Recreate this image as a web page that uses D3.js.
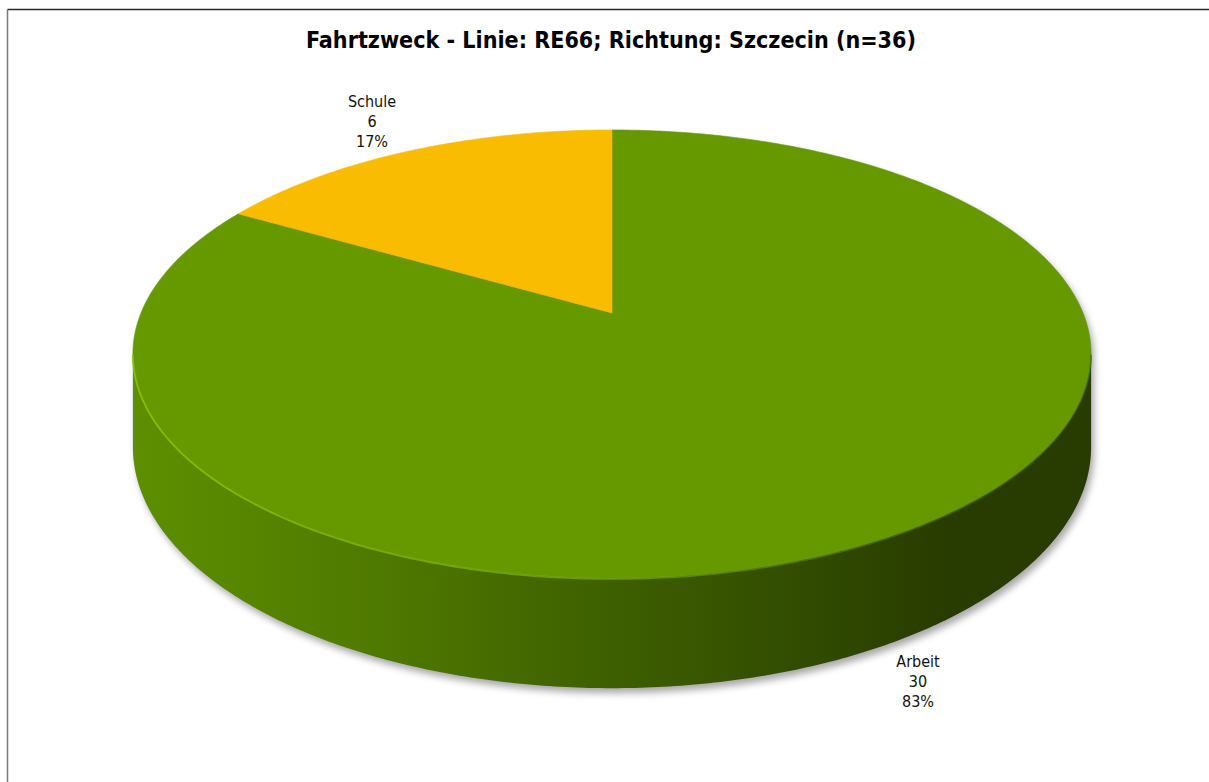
<!DOCTYPE html>
<html>
<head>
<meta charset="utf-8">
<script src="https://cdn.jsdelivr.net/npm/d3@7"></script>
<style>
html, body { margin: 0; padding: 0; background: #fff; }
svg { display: block; }
</style>
</head>
<body>
<div id="chart"></div>
<script>
// ---- data ----
const title = "Fahrtzweck - Linie: RE66; Richtung: Szczecin (n=36)";
const categories = ["Arbeit", "Schule"];
const values = [30, 6];
const percentLabels = ["83%", "17%"];
const sliceColors = ["#669900", "#F9BC00"];

// ---- layout ----
const W = 1209, H = 782;
const svg = d3.select("#chart").append("svg").attr("width", W).attr("height", H);
const defs = svg.append("defs");

// perspective projection of a unit disc (theta clockwise from 12 o'clock)
const cx = 612, Y0 = 313, A = 471, B = 216.5, k = -0.183, depth = 90;
function proj(theta, r, h) {
  const u = r * Math.sin(theta), v = -r * Math.cos(theta);
  const w = 1 + k * v;
  return [cx + A * u / w, Y0 + (B * v + h) / w];
}
const silA = Math.acos(k), silB = 2 * Math.PI - Math.acos(k);

const pie = d3.pie().sort(null).value(d => d.value).startAngle(0).endAngle(2 * Math.PI);
const data = categories.map((c, i) => ({ cat: c, value: values[i], pct: percentLabels[i], color: sliceColors[i] }));
const arcs = pie(data);

function arcPoints(a0, a1, h) {
  const n = Math.max(2, Math.ceil((a1 - a0) / 0.01));
  const pts = [];
  for (let i = 0; i <= n; i++) pts.push(proj(a0 + (a1 - a0) * i / n, 1, h));
  return pts;
}
const line = d3.line().curve(d3.curveLinear);

// shadow
const shadow = defs.append("filter").attr("id", "shadow").attr("x", "-10%").attr("y", "-10%").attr("width", "120%").attr("height", "130%");
shadow.append("feGaussianBlur").attr("stdDeviation", 3.5);
const allPts = arcPoints(0, 2 * Math.PI, 0).concat(arcPoints(0, 2 * Math.PI, depth));
const hull = d3.polygonHull(allPts);
svg.append("path")
  .attr("d", line(hull) + "Z")
  .attr("transform", "translate(3,5)")
  .attr("fill", "#8c8c8c")
  .attr("opacity", 0.75)
  .attr("filter", "url(#shadow)");

// side gradient
const sideGrad = defs.append("linearGradient").attr("id", "sideGrad")
  .attr("gradientUnits", "userSpaceOnUse")
  .attr("x1", cx - 480).attr("x2", cx + 480).attr("y1", 0).attr("y2", 0);
[[0, "#5d8f00"], [0.25, "#4f7a00"], [0.5, "#3e5f00"], [0.72, "#304a00"], [0.85, "#283b00"], [1, "#283b00"]]
  .forEach(([o, c]) => sideGrad.append("stop").attr("offset", o).attr("stop-color", c));
const sideGradY = defs.append("linearGradient").attr("id", "sideGradY")
  .attr("gradientUnits", "userSpaceOnUse")
  .attr("x1", cx - 480).attr("x2", cx + 480).attr("y1", 0).attr("y2", 0);
[[0, "#d99f00"], [1, "#6b5200"]].forEach(([o, c]) => sideGradY.append("stop").attr("offset", o).attr("stop-color", c));

// sides (front visible part)
arcs.forEach((a, i) => {
  const s = Math.max(a.startAngle, silA), e = Math.min(a.endAngle, silB);
  if (e <= s) return;
  const top = arcPoints(s, e, 0);
  const bot = arcPoints(s, e, depth).reverse();
  svg.append("path")
    .attr("d", line(top.concat(bot)) + "Z")
    .attr("fill", i === 0 ? "url(#sideGrad)" : "url(#sideGradY)");
});

// top faces
arcs.forEach(a => {
  const pts = [proj(0, 0, 0)].concat(arcPoints(a.startAngle, a.endAngle, 0));
  svg.append("path")
    .attr("d", line(pts) + "Z")
    .attr("fill", a.data.color)
    .attr("stroke", a.data.color)
    .attr("stroke-width", 0.6);
});

// rim highlight on front edge
const rimGrad = defs.append("linearGradient").attr("id", "rimGrad")
  .attr("gradientUnits", "userSpaceOnUse")
  .attr("x1", cx - 480).attr("x2", cx + 480).attr("y1", 0).attr("y2", 0);
[[0, "#86c400", 0.9], [0.5, "#7ab000", 0.7], [0.8, "#4f7a00", 0.6], [1, "#3a5a00", 0.6]]
  .forEach(([o, c, op]) => rimGrad.append("stop").attr("offset", o).attr("stop-color", c).attr("stop-opacity", op));
svg.append("path")
  .attr("d", line(arcPoints(silA, silB, 0.8)))
  .attr("fill", "none")
  .attr("stroke", "url(#rimGrad)")
  .attr("stroke-width", 1.8);

// labels
const labelPos = [[918, 667], [372, 107]];
arcs.forEach((a, i) => {
  const t = svg.append("text")
    .attr("font-family", "'DejaVu Sans Condensed', 'DejaVu Sans', sans-serif")
    .attr("font-stretch", "condensed")
    .attr("font-size", 16)
    .attr("fill", "#111")
    .attr("text-anchor", "middle");
  [a.data.cat, String(a.data.value), a.data.pct].forEach((s, j) => {
    t.append("tspan").attr("x", labelPos[i][0]).attr("y", labelPos[i][1] + j * 20).text(s);
  });
});

// title
svg.append("text")
  .attr("x", 611).attr("y", 48)
  .attr("text-anchor", "middle")
  .attr("font-family", "'DejaVu Sans Condensed', 'DejaVu Sans', sans-serif")
  .attr("font-stretch", "condensed")
  .attr("font-weight", "bold")
  .attr("font-size", 23.5)
  .attr("textLength", 610)
  .attr("lengthAdjust", "spacingAndGlyphs")
  .attr("fill", "#000")
  .text(title);

// frame
svg.append("line").attr("x1", 7.5).attr("x2", W).attr("y1", 9.5).attr("y2", 9.5)
  .attr("stroke", "#2a2a2a").attr("stroke-width", 1.5);
svg.append("line").attr("x1", 7.5).attr("x2", 7.5).attr("y1", 9.5).attr("y2", H)
  .attr("stroke", "#7a7a7a").attr("stroke-width", 1.5);
</script>
</body>
</html>
